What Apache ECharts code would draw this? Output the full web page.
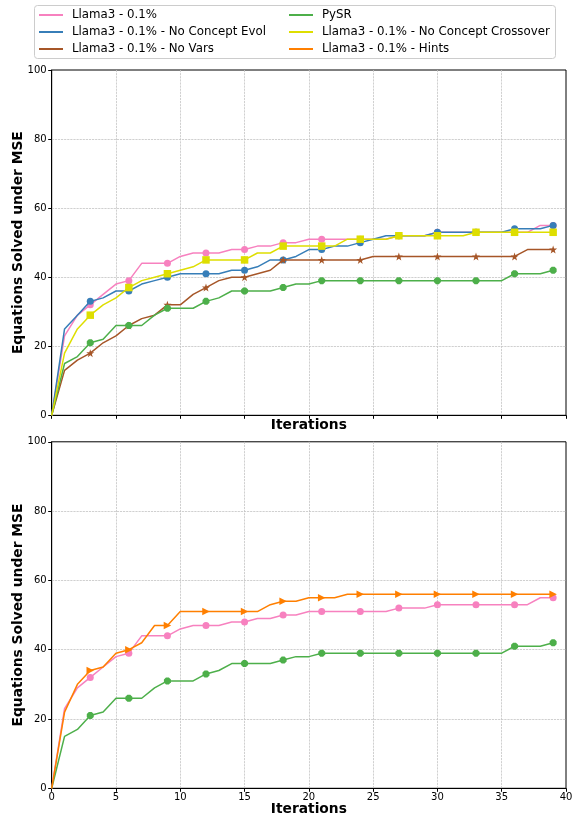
<!DOCTYPE html>
<html><head><meta charset="utf-8">
<script src="https://cdn.jsdelivr.net/npm/echarts@6/dist/echarts.min.js"></script>
<style>html,body{margin:0;padding:0;background:#fff}#c{width:572px;height:819px}</style>
</head><body><div id="c"></div>
<script>
const iterations = [0,1,2,3,4,5,6,7,8,9,10,11,12,13,14,15,16,17,18,19,20,21,22,23,24,25,26,27,28,29,30,31,32,33,34,35,36,37,38,39];
const llama = [0,23,29,32,35,38,39,44,44,44,46,47,47,47,48,48,49,49,50,50,51,51,51,51,51,51,51,52,52,52,53,53,53,53,53,53,53,53,55,55];
const noConceptEvol = [0,25,29,33,34,36,36,38,39,40,41,41,41,41,42,42,43,45,45,46,48,48,49,49,50,51,52,52,52,52,53,53,53,53,53,53,54,54,54,55];
const noVars = [0,13,16,18,21,23,26,28,29,32,32,35,37,39,40,40,41,42,45,45,45,45,45,45,45,46,46,46,46,46,46,46,46,46,46,46,46,48,48,48];
const pysr = [0,15,17,21,22,26,26,26,29,31,31,31,33,34,36,36,36,36,37,38,38,39,39,39,39,39,39,39,39,39,39,39,39,39,39,39,41,41,41,42];
const noCrossover = [0,18,25,29,32,34,37,39,40,41,42,43,45,45,45,45,47,47,49,49,49,49,49,51,51,51,51,52,52,52,52,52,52,53,53,53,53,53,53,53];
const hints = [0,22,30,34,35,39,40,42,47,47,51,51,51,51,51,51,51,53,54,54,55,55,55,56,56,56,56,56,56,56,56,56,56,56,56,56,56,56,56,56];
const names = ['Llama3 - 0.1%','Llama3 - 0.1% - No Concept Evol','Llama3 - 0.1% - No Vars','PySR','Llama3 - 0.1% - No Concept Crossover','Llama3 - 0.1% - Hints'];
const yTicks = [0,20,40,60,80,100];
const xTicks = [0,5,10,15,20,25,30,35,40];

const FONT = 'DejaVu Sans';
const STAR = 'path://M0,-10 L2.35,-3.24 9.51,-3.09 3.8,1.24 5.88,8.09 0,4 -5.88,8.09 -3.8,1.24 -9.51,-3.09 -2.35,-3.24 Z';
const OCT = 'path://M-4.14,-10 L4.14,-10 10,-4.14 10,4.14 4.14,10 -4.14,10 -10,4.14 -10,-4.14Z';
const TRI = 'path://M0,0 L10,5 L0,10 Z';

function mk(name, vals, color, symbol, size, g, z) {
  return {
    type: 'line', name: name, xAxisIndex: g, yAxisIndex: g,
    data: iterations.map((x, i) => ({ value: [x, vals[i]], symbol: (i % 3 === 0 && i > 0) ? symbol : 'none' })),
    symbolSize: size, showAllSymbol: true, color: color,
    lineStyle: { color: color, width: 1.5 }, itemStyle: { color: color },
    emphasis: { disabled: true }, z: z, animation: false
  };
}

const gridLine = { show: true, showMinLine: false, showMaxLine: false, lineStyle: { color: '#c4c4c4', width: 0.8, type: [2.2, 0.9] } };
function xAx(g, showLabels, gap) {
  return {
    type: 'value', gridIndex: g, min: 0, max: 40, interval: 5,
    name: 'Iterations', nameLocation: 'middle', nameGap: gap, nameMoveOverlap: false,
    nameTextStyle: { fontFamily: FONT, fontSize: 13.8, fontWeight: 'bold', color: '#000' },
    axisLine: { show: true, lineStyle: { color: '#000', width: 1 } },
    axisTick: { show: true, length: 3.5, lineStyle: { color: '#000' } },
    axisLabel: { show: showLabels, fontFamily: FONT, fontSize: 10, color: '#000', margin: 4 },
    splitLine: gridLine
  };
}
function yAx(g) {
  return {
    type: 'value', gridIndex: g, min: 0, max: 100, interval: 20,
    name: 'Equations Solved under MSE', nameLocation: 'middle', nameGap: 26, nameMoveOverlap: false,
    nameTextStyle: { fontFamily: FONT, fontSize: 13.8, fontWeight: 'bold', color: '#000' },
    axisLine: { show: true, lineStyle: { color: '#000', width: 1 } },
    axisTick: { show: true, length: 3.5, lineStyle: { color: '#000' } },
    axisLabel: { fontFamily: FONT, fontSize: 10, color: '#000', margin: 5 },
    splitLine: gridLine
  };
}
const legendCommon = {
  orient: 'vertical', icon: 'rect', itemWidth: 24, itemHeight: 2, itemGap: 0, padding: 0,
  selectedMode: false,
  textStyle: { fontFamily: FONT, fontSize: 11.8, color: '#000', lineHeight: 17, padding: [0, 0, 0, 4] }
};

const chart = echarts.init(document.getElementById('c'), null, { renderer: 'canvas' });
chart.setOption({
  animation: false,
  backgroundColor: '#fff',
  graphic: [{ type: 'rect', shape: { x: 34.5, y: 5.5, width: 521, height: 53, r: 3 }, style: { fill: '#fff', stroke: '#cccccc', lineWidth: 1 }, z: -1 }],
  legend: [
    Object.assign({ left: 39, top: 6.5, data: [names[0], names[1], names[2]] }, legendCommon),
    Object.assign({ left: 289, top: 6.5, data: [names[3], names[4], names[5]] }, legendCommon)
  ],
  grid: [
    { left: 51.7, right: 6, top: 70, height: 345.3, show: true, borderColor: '#000', borderWidth: 1, outerBoundsMode: 'none', containLabel: false },
    { left: 51.7, right: 6, top: 441.8, height: 346.5, show: true, borderColor: '#000', borderWidth: 1, outerBoundsMode: 'none', containLabel: false }
  ],
  xAxis: [xAx(0, false, 3.5), xAx(1, true, 14)],
  yAxis: [yAx(0), yAx(1)],
  series: [
    mk(names[0], llama, '#f781bf', 'circle', 7, 0, 2),
    mk(names[1], noConceptEvol, '#377eb8', 'circle', 7, 0, 3),
    mk(names[2], noVars, '#a65628', STAR, 8, 0, 4),
    mk(names[3], pysr, '#4daf4a', OCT, 7, 0, 5),
    mk(names[4], noCrossover, '#dede00', 'rect', 7.5, 0, 6),
    mk(names[0], llama, '#f781bf', 'circle', 7, 1, 2),
    mk(names[3], pysr, '#4daf4a', OCT, 7, 1, 3),
    mk(names[5], hints, '#ff7f00', TRI, 7.5, 1, 4)
  ]
});
</script></body></html>
